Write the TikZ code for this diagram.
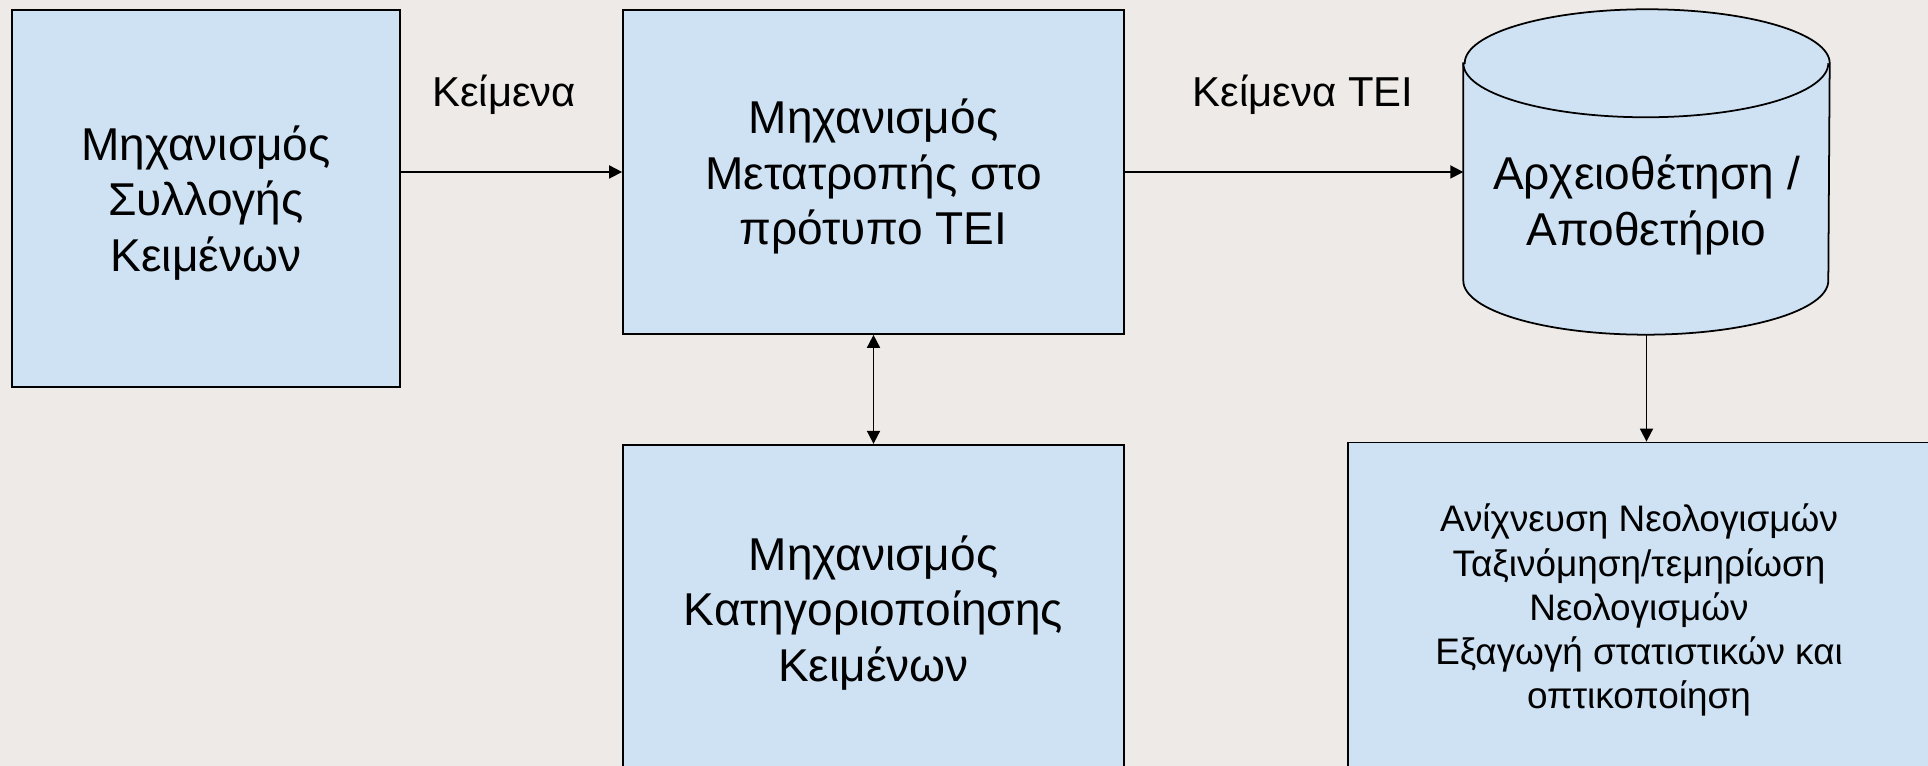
\documentclass[tikz,border=0pt]{standalone}
\usepackage{fontspec}
\setmainfont{Liberation Sans}
\usetikzlibrary{calc}
\usetikzlibrary{positioning}
\usetikzlibrary{arrows.meta}

\definecolor{boxfill}{RGB}{207,226,243}
\definecolor{bgcol}{RGB}{237,234,231}

\begin{document}
\begin{tikzpicture}[
        box/.style={draw, fill=boxfill, line width=0.5pt, align=center, inner sep=0pt, text depth=0pt,
            font=\fontsize{13.1pt}{15.8pt}\selectfont},
        small/.style={font=\fontsize{10.5pt}{12.6pt}\selectfont},
        lbl/.style={font=\fontsize{11.9pt}{14.3pt}\selectfont, inner sep=0pt},
        arr/.style={-{Triangle[length=1.3mm,width=1.3mm]}, line width=0.5pt},
        darr/.style={{Triangle[length=1.3mm,width=1.3mm]}-{Triangle[length=1.3mm,width=1.3mm]}, line width=0.5pt}
    ]
            % Background
            \useasboundingbox (0,0) rectangle (19.28,7.66);
            \fill[bgcol] (0,0) rectangle (19.28,7.66);
            
            % Blocks
            \node[box, minimum width=3.88cm, minimum height=3.77cm] (collect) at (2.06,5.675) {Μηχανισμός\\Συλλογής\\Κειμένων};
            \node[box, minimum width=5.01cm, minimum height=3.24cm] (convert) at (8.735,5.94) {Μηχανισμός\\Μετατροπής στο\\πρότυπο TEI};
            \node[box, minimum width=5.01cm, minimum height=3.27cm, below=1.09cm of convert] (classify) {Μηχανισμός\\Κατηγοριοποίησης\\Κειμένων};
            \node[box, small, minimum width=5.82cm, minimum height=3.28cm] (neo) at (16.39,1.595) {Ανίχνευση Νεολογισμών\\Ταξινόμηση/τεμηρίωση\\Νεολογισμών\\Εξαγωγή στατιστικών και\\οπτικοποίηση};
            
            % Repository (cylinder)
            \node[minimum width=3.65cm, minimum height=3.24cm, inner sep=0pt] (repo) at (16.465,5.94) {};
            \draw[fill=boxfill, line width=0.5pt] ($(repo.north west)+(0,-0.54)$) -- ($(repo.south west)+(0,0.54)$)
                arc (180:360:1.825 and 0.54) -- ($(repo.north east)+(0,-0.54)$)
                arc (0:180:1.825 and 0.54) -- cycle;
            \draw[line width=0.5pt] ($(repo.north west)+(0,-0.54)$) arc (180:360:1.825 and 0.54);
            \node[box, draw=none, fill=none] (repotext) at ($(repo.center)+(0,-0.28)$) {Αρχειοθέτηση /\\Αποθετήριο};
            
            % Connectors
            \draw[arr] (collect.east |- convert.west) -- (convert.west);
            \draw[arr] (convert.east) -- (repo.west);
            \draw[darr] (convert.south) -- (classify.north);
            \draw[arr] (repo.south) -- (repo.south |- neo.north);
            
            % Labels
            \node[lbl, anchor=base] (lblin) at (5.04,6.59) {Κείμενα};
            \node[lbl, anchor=base] (lbltei) at (13.03,6.59) {Κείμενα TEI};
        \end{tikzpicture}
\end{document}
